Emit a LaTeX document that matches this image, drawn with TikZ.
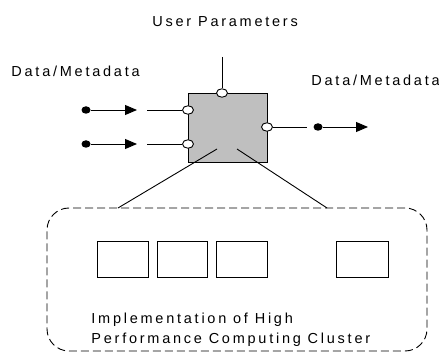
\documentclass[tikz,border=0pt]{standalone}
\usepackage{fontspec}
\setmainfont{Liberation Sans}[LetterSpace=19]
\usetikzlibrary{shapes.geometric,arrows.meta}
\begin{document}
\begin{tikzpicture}[x=1pt,y=-1pt,line width=0.9pt,
  lbl/.style={anchor=base west,inner sep=0pt,font=\fontsize{14.5}{20}\selectfont},
  proc/.style={draw,fill=gray!50,minimum width=79pt,minimum height=69pt,inner sep=0pt},
  port/.style={draw,fill=white,ellipse,minimum width=11pt,minimum height=8.5pt,inner sep=0pt},
  dot/.style={fill=black,ellipse,minimum width=9pt,minimum height=7.5pt,inner sep=0pt},
  flow/.style={-{Triangle[length=12pt,width=10pt]}},
  unit/.style={draw,minimum height=36pt,inner sep=0pt},
  cluster/.style={draw,dashed,dash pattern=on 8pt off 4pt,rounded corners=22pt,minimum width=380pt,minimum height=143pt,inner sep=0pt}]
\useasboundingbox (0,0) rectangle (439,352);
% labels
\node[lbl] (up) at (152,27) {User Parameters};
\node[lbl] (dml) at (11,77) {Data/Metadata};
\node[lbl] (dmr) at (311,86) {Data/Metadata};
% cluster
\node[cluster] (cl) at (237,279.5) {};
\node[unit,minimum width=51pt] (u1) at (122.5,259.5) {};
\node[unit,minimum width=50pt] (u2) at (182,259.5) {};
\node[unit,minimum width=51pt] (u3) at (241.5,259.5) {};
\node[unit,minimum width=52pt] (u4) at (362,259.5) {};
\node[lbl] (impl1) at (91,324) {Implementation of High};
\node[lbl] (impl2) at (91,344) {Performance Computing Cluster};
% process box
\node[proc] (box) at (227.5,127.5) {};
\coordinate (ptop) at (222,57);
\coordinate (pin1) at (147,110);
\coordinate (pin2) at (147,144);
\coordinate (pout) at (307,127);
\coordinate (ar1) at (137,110);
\coordinate (ar2) at (137,144);
\coordinate (aro) at (368,127);
\coordinate (s1) at (217,149);
\coordinate (s2) at (237,149);
\coordinate (c1) at (118,208);
\coordinate (c2) at (327,208);
\node[port] (pt) at (222,93) {};
\node[port] (p1) at (188,110) {};
\node[port] (p2) at (188,144) {};
\node[port] (po) at (267,127) {};
\node[dot] (d1) at (86,110) {};
\node[dot] (d2) at (86,144) {};
\node[dot] (d3) at (318,127) {};
\draw (ptop) -- (pt);
\draw (pin1) -- (p1);
\draw (pin2) -- (p2);
\draw (po) -- (pout);
\draw[flow] (d1) -- (ar1);
\draw[flow] (d2) -- (ar2);
\draw[flow] (d3) -- (aro);
\draw (s1) -- (c1);
\draw (s2) -- (c2);
\end{tikzpicture}
\end{document}
